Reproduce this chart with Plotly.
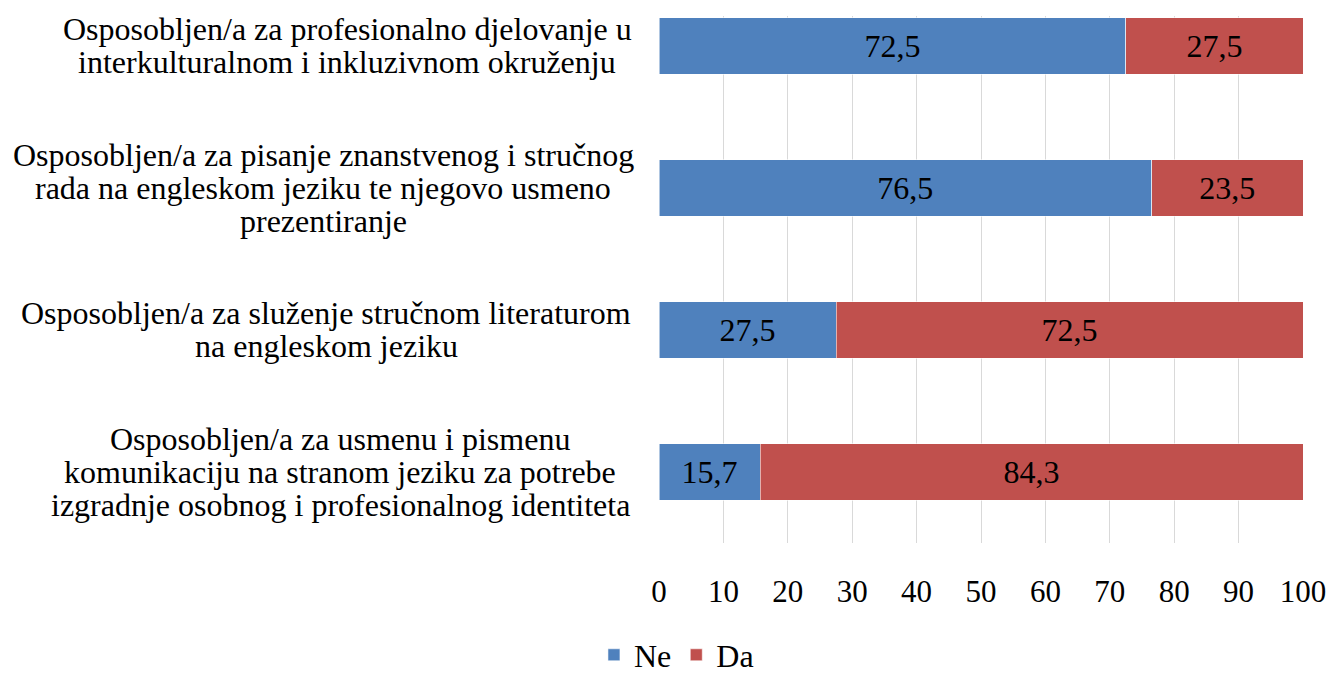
import plotly.graph_objects as go

categories = [
    "Osposobljen/a za profesionalno djelovanje u interkulturalnom i inkluzivnom okruženju",
    "Osposobljen/a za pisanje znanstvenog i stručnog rada na engleskom jeziku te njegovo usmeno prezentiranje",
    "Osposobljen/a za služenje stručnom literaturom na engleskom jeziku",
    "Osposobljen/a za usmenu i pismenu komunikaciju na stranom jeziku za potrebe izgradnje osobnog i profesionalnog identiteta",
]
category_lines = [
    ["Osposobljen/a za profesionalno djelovanje u", "interkulturalnom i inkluzivnom okruženju"],
    ["Osposobljen/a za pisanje znanstvenog i stručnog", "rada na engleskom jeziku te njegovo usmeno", "prezentiranje"],
    ["Osposobljen/a za služenje stručnom literaturom", "na engleskom jeziku"],
    ["Osposobljen/a za usmenu i pismenu", "komunikaciju na stranom jeziku za potrebe", "izgradnje osobnog i profesionalnog identiteta"],
]
ne_values = [72.5, 76.5, 27.5, 15.7]
da_values = [27.5, 23.5, 72.5, 84.3]
x_ticks = [0, 10, 20, 30, 40, 50, 60, 70, 80, 90, 100]

FONT = "Liberation Serif, Times New Roman, serif"
FS = 32
W, H = 1329, 673
ML, MR, MT, MB = 659, 26, 16, 130
LINE_H = 33
# horizontal centre of each label block, in px left of the plot area
label_center_offsets = [-312, -336, -333, -319]

fig = go.Figure()
for name, vals, color in [("Ne", ne_values, "#4F81BD"), ("Da", da_values, "#C0504D")]:
    fig.add_trace(go.Bar(
        y=categories, x=vals, name=name, orientation="h",
        marker=dict(color=color, line=dict(color="rgba(255,255,255,0.55)", width=1)),
        texttemplate="%{x:.1f}", textposition="inside", insidetextanchor="middle",
        textfont=dict(family=FONT, size=FS, color="black"),
        constraintext="none",
    ))

for cat, lines, off in zip(categories, category_lines, label_center_offsets):
    n = len(lines)
    for k, line in enumerate(lines):
        fig.add_annotation(
            x=0, xref="paper", xanchor="center", xshift=off,
            y=cat, yref="y", yanchor="middle", yshift=((n - 1) / 2 - k) * LINE_H,
            text=line, showarrow=False,
            font=dict(family=FONT, size=FS, color="black"),
        )

fig.update_layout(
    width=W, height=H,
    margin=dict(l=ML, r=MR, t=MT, b=MB, autoexpand=False),
    barmode="stack", bargap=0.6,
    separators=",.",
    plot_bgcolor="white", paper_bgcolor="white",
    font=dict(family=FONT, size=FS, color="black"),
    showlegend=True,
    legend=dict(orientation="h", x=-0.101, xanchor="left", y=-0.2125, yanchor="middle",
                font=dict(family=FONT, size=FS, color="black"), traceorder="normal",
                itemwidth=30),
)
fig.update_xaxes(range=[0, 100], tickvals=x_ticks, showgrid=True, gridcolor="#D9D9D9", gridwidth=1,
                 zeroline=False, showline=False, ticks="", ticklabelstandoff=27,
                 tickfont=dict(family=FONT, size=31, color="black"))
fig.update_yaxes(type="category", range=[3.5, -0.211], showticklabels=False, showgrid=False,
                 zeroline=False, showline=False, ticks="")

fig.write_html("out.html", config={"displayModeBar": False},
               post_script="document.body.style.margin='0';document.body.style.overflow='hidden';")
